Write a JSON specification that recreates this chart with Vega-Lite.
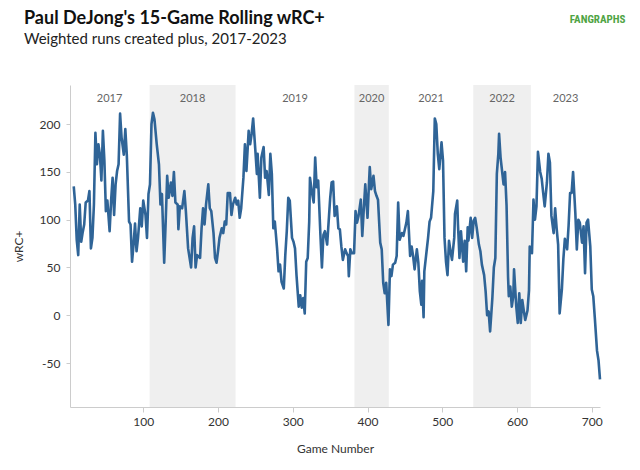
{
  "$schema": "https://vega.github.io/schema/vega-lite/v6.json",
  "width": 530,
  "height": 322,
  "autosize": {"type": "none"},
  "padding": {"left": 70, "top": 85, "right": 40, "bottom": 63},
  "background": "white",
  "config": {
    "view": {"stroke": null},
    "font": "Lato",
    "axis": {
      "domainColor": "#cccccc",
      "tickColor": "#cccccc",
      "tickSize": 5,
      "grid": false,
      "labelFont": "Lato",
      "labelFontSize": 12,
      "labelColor": "#333333",
      "titleFont": "Lato",
      "titleFontSize": 12,
      "titleFontWeight": "normal",
      "titleColor": "#333333"
    }
  },
  "title": {
    "text": "Paul DeJong's 15-Game Rolling wRC+",
    "subtitle": "Weighted runs created plus, 2017-2023",
    "anchor": "start",
    "frame": "group",
    "dx": -46,
    "offset": -33,
    "font": "Lato",
    "fontSize": 18,
    "fontWeight": "bold",
    "color": "#111111",
    "subtitleFont": "Lato",
    "subtitleFontSize": 15,
    "subtitleColor": "#222222",
    "subtitlePadding": 4
  },
  "datasets": {
    "seasons": [
      {"year": "2017", "start": 2, "end": 108, "mid": 55, "shade": false},
      {"year": "2018", "start": 108.5, "end": 223.5, "mid": 166, "shade": true},
      {"year": "2019", "start": 223.5, "end": 382.5, "mid": 303, "shade": false},
      {"year": "2020", "start": 382.5, "end": 428.5, "mid": 405.5, "shade": true},
      {"year": "2021", "start": 428.5, "end": 541.5, "mid": 485, "shade": false},
      {"year": "2022", "start": 541.5, "end": 618.5, "mid": 580, "shade": true},
      {"year": "2023", "start": 618.5, "end": 711, "mid": 665, "shade": false}
    ],
    "rolling": [
      {"g":7,"v":135},{"g":9,"v":116},{"g":11,"v":79},{"g":13,"v":63},{"g":15,"v":116},{"g":17,"v":77},{"g":19,"v":87},{"g":21,"v":95},{"g":23,"v":118},{"g":26,"v":120},{"g":28,"v":130},{"g":30,"v":70},{"g":32,"v":81},{"g":34,"v":116},{"g":36,"v":191},{"g":38,"v":158},{"g":40,"v":179},{"g":42,"v":168},{"g":44,"v":141},{"g":46,"v":193},{"g":48,"v":162},{"g":50,"v":109},{"g":52,"v":120},{"g":55,"v":88},{"g":57,"v":120},{"g":59,"v":144},{"g":61,"v":105},{"g":63,"v":137},{"g":65,"v":151},{"g":67,"v":158},{"g":69,"v":211},{"g":71,"v":186},{"g":74,"v":168},{"g":76,"v":195},{"g":78,"v":168},{"g":81,"v":98},{"g":83,"v":95},{"g":85,"v":56},{"g":87,"v":74},{"g":89,"v":96},{"g":91,"v":67},{"g":93,"v":81},{"g":96,"v":112},{"g":98,"v":93},{"g":100,"v":120},{"g":103,"v":105},{"g":105,"v":81},{"g":107,"v":127},{"g":109,"v":137},{"g":111,"v":200},{"g":113,"v":212},{"g":115,"v":205},{"g":118,"v":179},{"g":121,"v":158},{"g":123,"v":116},{"g":125,"v":127},{"g":128,"v":55},{"g":130,"v":98},{"g":132,"v":146},{"g":134,"v":123},{"g":137,"v":139},{"g":139,"v":125},{"g":141,"v":150},{"g":143,"v":118},{"g":146,"v":116},{"g":147,"v":90},{"g":149,"v":114},{"g":152,"v":112},{"g":155,"v":130},{"g":157,"v":109},{"g":160,"v":70},{"g":164,"v":50},{"g":166,"v":81},{"g":168,"v":93},{"g":170,"v":50},{"g":172,"v":63},{"g":176,"v":60},{"g":178,"v":91},{"g":180,"v":112},{"g":182,"v":95},{"g":184,"v":116},{"g":187,"v":137},{"g":189,"v":112},{"g":191,"v":109},{"g":194,"v":86},{"g":196,"v":60},{"g":198,"v":55},{"g":200,"v":67},{"g":202,"v":81},{"g":205,"v":91},{"g":207,"v":86},{"g":209,"v":98},{"g":211,"v":95},{"g":213,"v":128},{"g":216,"v":128},{"g":218,"v":105},{"g":220,"v":116},{"g":223,"v":123},{"g":225,"v":116},{"g":227,"v":120},{"g":229,"v":102},{"g":231,"v":112},{"g":234,"v":144},{"g":236,"v":179},{"g":238,"v":151},{"g":241,"v":193},{"g":243,"v":179},{"g":245,"v":190},{"g":247,"v":206},{"g":250,"v":172},{"g":252,"v":148},{"g":253,"v":169},{"g":256,"v":123},{"g":258,"v":165},{"g":261,"v":176},{"g":263,"v":144},{"g":265,"v":151},{"g":268,"v":126},{"g":270,"v":169},{"g":272,"v":148},{"g":274,"v":91},{"g":276,"v":98},{"g":279,"v":70},{"g":281,"v":46},{"g":283,"v":53},{"g":285,"v":35},{"g":288,"v":28},{"g":290,"v":63},{"g":292,"v":88},{"g":294,"v":123},{"g":296,"v":120},{"g":299,"v":81},{"g":301,"v":77},{"g":303,"v":70},{"g":305,"v":42},{"g":308,"v":9},{"g":310,"v":21},{"g":312,"v":8},{"g":314,"v":18},{"g":316,"v":2},{"g":318,"v":56},{"g":320,"v":60},{"g":322,"v":98},{"g":323,"v":144},{"g":326,"v":127},{"g":328,"v":118},{"g":330,"v":165},{"g":332,"v":134},{"g":334,"v":141},{"g":337,"v":84},{"g":339,"v":50},{"g":341,"v":84},{"g":343,"v":88},{"g":346,"v":74},{"g":348,"v":98},{"g":350,"v":122},{"g":352,"v":139},{"g":354,"v":140},{"g":356,"v":104},{"g":359,"v":114},{"g":361,"v":91},{"g":363,"v":90},{"g":365,"v":72},{"g":367,"v":58},{"g":370,"v":69},{"g":372,"v":65},{"g":374,"v":62},{"g":375,"v":41},{"g":377,"v":69},{"g":379,"v":65},{"g":382,"v":65},{"g":384,"v":109},{"g":386,"v":97},{"g":388,"v":104},{"g":391,"v":121},{"g":393,"v":83},{"g":395,"v":111},{"g":397,"v":137},{"g":400,"v":102},{"g":402,"v":139},{"g":403,"v":155},{"g":405,"v":132},{"g":408,"v":146},{"g":410,"v":130},{"g":412,"v":125},{"g":414,"v":121},{"g":417,"v":76},{"g":419,"v":69},{"g":421,"v":34},{"g":423,"v":23},{"g":425,"v":34},{"g":428,"v":-10},{"g":430,"v":48},{"g":432,"v":41},{"g":434,"v":53},{"g":437,"v":55},{"g":439,"v":62},{"g":441,"v":118},{"g":443,"v":79},{"g":446,"v":86},{"g":448,"v":83},{"g":450,"v":90},{"g":452,"v":97},{"g":454,"v":109},{"g":457,"v":62},{"g":459,"v":72},{"g":461,"v":62},{"g":463,"v":48},{"g":466,"v":69},{"g":468,"v":55},{"g":470,"v":25},{"g":472,"v":11},{"g":473,"v":36},{"g":475,"v":-2},{"g":476,"v":46},{"g":479,"v":67},{"g":481,"v":81},{"g":483,"v":98},{"g":485,"v":102},{"g":488,"v":130},{"g":490,"v":206},{"g":492,"v":200},{"g":494,"v":169},{"g":496,"v":153},{"g":499,"v":181},{"g":501,"v":162},{"g":503,"v":81},{"g":505,"v":56},{"g":507,"v":42},{"g":509,"v":78},{"g":511,"v":67},{"g":513,"v":58},{"g":516,"v":81},{"g":517,"v":106},{"g":520,"v":120},{"g":521,"v":95},{"g":523,"v":60},{"g":525,"v":88},{"g":528,"v":56},{"g":530,"v":78},{"g":532,"v":46},{"g":534,"v":92},{"g":535,"v":78},{"g":538,"v":102},{"g":540,"v":81},{"g":542,"v":99},{"g":544,"v":102},{"g":546,"v":92},{"g":549,"v":74},{"g":551,"v":67},{"g":553,"v":53},{"g":556,"v":42},{"g":558,"v":25},{"g":560,"v":0},{"g":562,"v":4},{"g":564,"v":-17},{"g":567,"v":18},{"g":569,"v":50},{"g":571,"v":60},{"g":573,"v":148},{"g":575,"v":169},{"g":576,"v":190},{"g":578,"v":165},{"g":580,"v":151},{"g":582,"v":137},{"g":584,"v":150},{"g":586,"v":115},{"g":588,"v":40},{"g":589,"v":20},{"g":591,"v":30},{"g":593,"v":9},{"g":595,"v":20},{"g":596,"v":48},{"g":599,"v":9},{"g":601,"v":-8},{"g":603,"v":23},{"g":605,"v":-8},{"g":607,"v":16},{"g":609,"v":5},{"g":611,"v":-5},{"g":614,"v":5},{"g":616,"v":26},{"g":617,"v":72},{"g":620,"v":65},{"g":622,"v":121},{"g":624,"v":100},{"g":626,"v":114},{"g":628,"v":171},{"g":631,"v":150},{"g":633,"v":143},{"g":635,"v":128},{"g":637,"v":114},{"g":640,"v":139},{"g":642,"v":169},{"g":644,"v":160},{"g":646,"v":104},{"g":649,"v":86},{"g":651,"v":112},{"g":653,"v":91},{"g":655,"v":74},{"g":657,"v":2},{"g":660,"v":27},{"g":662,"v":59},{"g":664,"v":80},{"g":667,"v":69},{"g":669,"v":94},{"g":671,"v":128},{"g":673,"v":128},{"g":675,"v":150},{"g":678,"v":107},{"g":680,"v":69},{"g":682,"v":100},{"g":684,"v":97},{"g":687,"v":76},{"g":689,"v":93},{"g":691,"v":44},{"g":693,"v":97},{"g":695,"v":100},{"g":698,"v":72},{"g":700,"v":27},{"g":702,"v":20},{"g":704,"v":-2},{"g":707,"v":-37},{"g":709,"v":-47},{"g":711,"v":-67}
    ],
    "brand": [{"name": "FANGRAPHS"}]
  },
  "layer": [
    {
      "data": {"name": "seasons"},
      "transform": [{"filter": "datum.shade"}],
      "mark": {"type": "rect", "color": "#efefef"},
      "encoding": {
        "x": {"field": "start", "type": "quantitative", "scale": {"domain": [2, 711], "nice": false, "zero": false}},
        "x2": {"field": "end"}
      }
    },
    {
      "data": {"name": "seasons"},
      "mark": {"type": "text", "font": "Lato", "fontSize": 11, "color": "#666666", "baseline": "middle"},
      "encoding": {
        "x": {"field": "mid", "type": "quantitative"},
        "y": {"datum": 226},
        "text": {"field": "year"}
      }
    },
    {
      "data": {"name": "rolling"},
      "mark": {"type": "line", "color": "#2f6497", "strokeWidth": 2.6, "strokeJoin": "round"},
      "encoding": {
        "x": {
          "field": "g", "type": "quantitative",
          "scale": {"domain": [2, 711], "nice": false, "zero": false},
          "axis": {"values": [100, 200, 300, 400, 500, 600, 700], "title": "Game Number", "labelPadding": 4, "titlePadding": 16}
        },
        "y": {
          "field": "v", "type": "quantitative",
          "scale": {"domain": [-96, 241], "nice": false, "zero": false},
          "axis": {"values": [-50, 0, 50, 100, 150, 200], "labelExpr": "replace(datum.label, '−', '-')", "title": "wRC+", "tickSize": 4, "labelPadding": 6, "titlePadding": 14}
        }
      }
    },
    {
      "data": {"name": "brand"},
      "mark": {"type": "text", "font": "Roboto Condensed", "fontSize": 11, "fontWeight": "bold", "color": "#4fa444", "align": "right", "baseline": "middle"},
      "encoding": {
        "x": {"datum": 745},
        "y": {"datum": 309},
        "text": {"field": "name"}
      }
    }
  ]
}
